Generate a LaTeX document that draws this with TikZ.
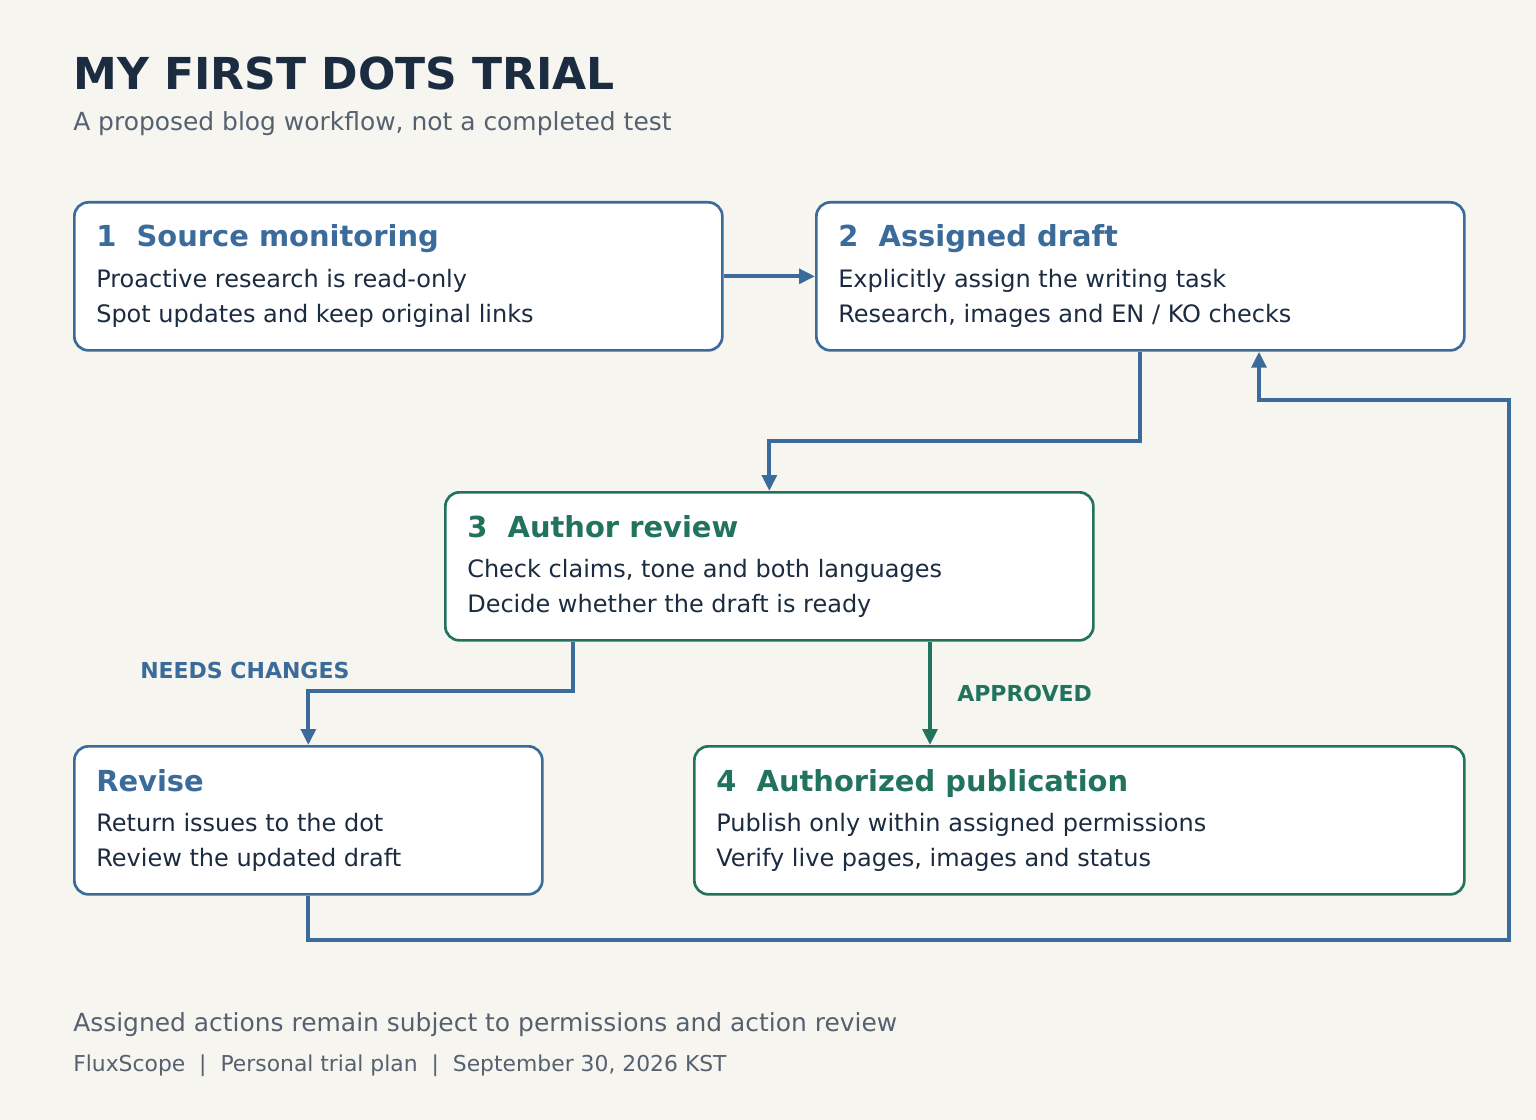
\documentclass[tikz,border=0pt]{standalone}
\usepackage{fontspec}
\setmainfont{DejaVu Sans}
\usetikzlibrary{arrows.meta}
\definecolor{paper}{HTML}{F6F5F0}
\definecolor{ink}{HTML}{1B2B40}
\definecolor{muted}{HTML}{56616F}
\definecolor{flowblue}{HTML}{3A6B9A}
\definecolor{flowgreen}{HTML}{22735E}
\begin{document}
\begin{tikzpicture}[x=0.75pt,y=-0.75pt,
		card/.style={draw=#1,line width=2pt,rounded corners=10.5pt,fill=white,
			anchor=north west,minimum height=111pt,inner sep=0pt},
		head/.style={anchor=base west,inner sep=0pt,text=#1,
			font=\fontsize{21.7}{26}\selectfont\bfseries},
		bodytext/.style={anchor=base west,inner sep=0pt,text=ink,
			font=\fontsize{18}{22}\selectfont},
		link/.style={draw=#1,line width=3.2pt,-{Triangle[length=12pt,width=11pt]}},
		tag/.style={anchor=base west,inner sep=0pt,text=#1,
			font=\fontsize{16.5}{20}\selectfont\bfseries}]
	\fill[paper] (0,0) rectangle (1536,1120);
	\useasboundingbox (0,0) rectangle (1536,1120);
	% title
	\node[anchor=base west,inner sep=0pt,text=ink,
		font=\fontsize{33}{40}\selectfont\bfseries] (title) at (73,90)
		{MY FIRST DOTS TRIAL};
	\node[anchor=base west,inner sep=0pt,text=muted,
		font=\fontsize{18.7}{22}\selectfont] (subtitle) at (73,131)
		{A proposed blog workflow, not a completed test};
	% boxes
	\node[card=flowblue,minimum width=486pt] (src) at (73,201) {};
	\node[head=flowblue] (srchead) at (96,247) {1\hspace{0.7em}Source monitoring};
	\node[bodytext] (srca) at (96,287) {Proactive research is read-only};
	\node[bodytext] (srcb) at (96,322) {Spot updates and keep original links};
	\node[card=flowblue,minimum width=486pt] (drf) at (815,201) {};
	\node[head=flowblue] (drfhead) at (838,247) {2\hspace{0.7em}Assigned draft};
	\node[bodytext] (drfa) at (838,287) {Explicitly assign the writing task};
	\node[bodytext] (drfb) at (838,322) {Research, images and EN / KO checks};
	\node[card=flowgreen,minimum width=486pt] (rvw) at (444,491) {};
	\node[head=flowgreen] (rvwhead) at (467,537) {3\hspace{0.7em}Author review};
	\node[bodytext] (rvwa) at (467,577) {Check claims, tone and both languages};
	\node[bodytext] (rvwb) at (467,612) {Decide whether the draft is ready};
	\node[card=flowblue,minimum width=351pt] (rev) at (73,745) {};
	\node[head=flowblue] (revhead) at (96,791) {Revise};
	\node[bodytext] (reva) at (96,831) {Return issues to the dot};
	\node[bodytext] (revb) at (96,866) {Review the updated draft};
	\node[card=flowgreen,minimum width=577.5pt] (pub) at (693,745) {};
	\node[head=flowgreen] (pubhead) at (716,791) {4\hspace{0.7em}Authorized publication};
	\node[bodytext] (puba) at (716,831) {Publish only within assigned permissions};
	\node[bodytext] (pubb) at (716,866) {Verify live pages, images and status};
	% connectors
	\coordinate (split) at (1139,441);
	\coordinate (fork) at (573,691);
	\coordinate (okx) at (930,700);
	\coordinate (loopa) at (1509,940);
	\coordinate (loopb) at (1259,400);
	\draw[link=flowblue] (src.east) -- (drf.west);
	\draw[link=flowblue] (drf.south) -- (drf.south |- split) -| (rvw.north);
	\draw[link=flowblue] (rvw.south -| fork) -- (fork) -| (rev.north);
	\draw[link=flowgreen] (rvw.south -| okx) -- (pub.north -| okx);
	\draw[link=flowblue] (rev.south) |- (loopa) |- (loopb) -- (drf.south -| loopb);
	\node[tag=flowblue] (needs) at (140,678) {NEEDS CHANGES};
	\node[tag=flowgreen] (approved) at (957,701) {APPROVED};
	% footer
	\node[anchor=base west,inner sep=0pt,text=muted,
		font=\fontsize{18.7}{22}\selectfont] (note) at (73,1031)
		{Assigned actions remain subject to permissions and action review};
	\node[anchor=base west,inner sep=0pt,text=muted,
		font=\fontsize{16.4}{20}\selectfont] (credit) at (73,1071)
		{FluxScope\ \ |\ \ Personal trial plan\ \ |\ \ September 30, 2026 KST};
\end{tikzpicture}
\end{document}
